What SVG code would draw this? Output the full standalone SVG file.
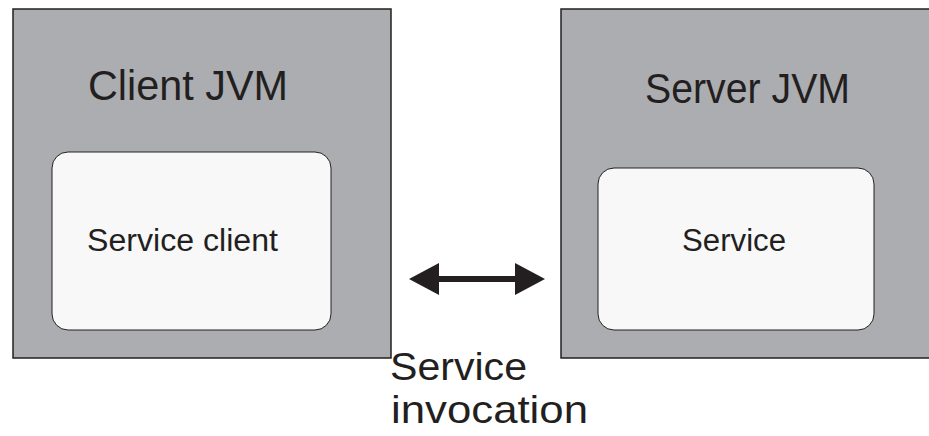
<svg xmlns="http://www.w3.org/2000/svg" width="929" height="436" viewBox="0 0 929 436">
<defs>
<style>
.jvm{fill:#acadb1;stroke:#231f20;stroke-width:1.5}
.inner{fill:#f8f8f8;stroke:#231f20;stroke-width:1}
text{font-family:"Liberation Sans",Arial,sans-serif;fill:#231f20}
.big{font-size:42px}
.mid{font-size:31px}
.lbl{font-size:39px}
</style>
<marker id="ah" viewBox="0 0 30 32" refX="1" refY="16" markerWidth="30" markerHeight="32" markerUnits="userSpaceOnUse" orient="auto-start-reverse">
<path d="M0,0 L30,16 L0,32 Z" fill="#231f20"/>
</marker>
</defs>
<rect width="929" height="436" fill="#ffffff"/>
<g id="client-jvm">
<rect class="jvm" x="13" y="9" width="378" height="349"/>
<text class="big" x="88" y="100" textLength="200" lengthAdjust="spacingAndGlyphs">Client JVM</text>
</g>
<g id="service-client">
<rect class="inner" x="52" y="152" width="279" height="178" rx="16" ry="16"/>
<text class="mid" x="87" y="251" textLength="191" lengthAdjust="spacingAndGlyphs">Service client</text>
</g>
<g id="server-jvm">
<rect class="jvm" x="561" y="9" width="380" height="349"/>
<text class="big" x="645" y="103" textLength="205" lengthAdjust="spacingAndGlyphs">Server JVM</text>
</g>
<g id="service">
<rect class="inner" x="598" y="168" width="276" height="162" rx="16" ry="16"/>
<text class="mid" x="682" y="251" textLength="104" lengthAdjust="spacingAndGlyphs">Service</text>
</g>
<g id="connectors">
<line x1="438" y1="279" x2="516" y2="279" stroke="#231f20" stroke-width="6" marker-start="url(#ah)" marker-end="url(#ah)"/>
</g>
<g id="invocation-label">
<text class="lbl" x="390" y="380" textLength="137" lengthAdjust="spacingAndGlyphs">Service</text>
<text class="lbl" x="391" y="423" textLength="197" lengthAdjust="spacingAndGlyphs">invocation</text>
</g>
</svg>
